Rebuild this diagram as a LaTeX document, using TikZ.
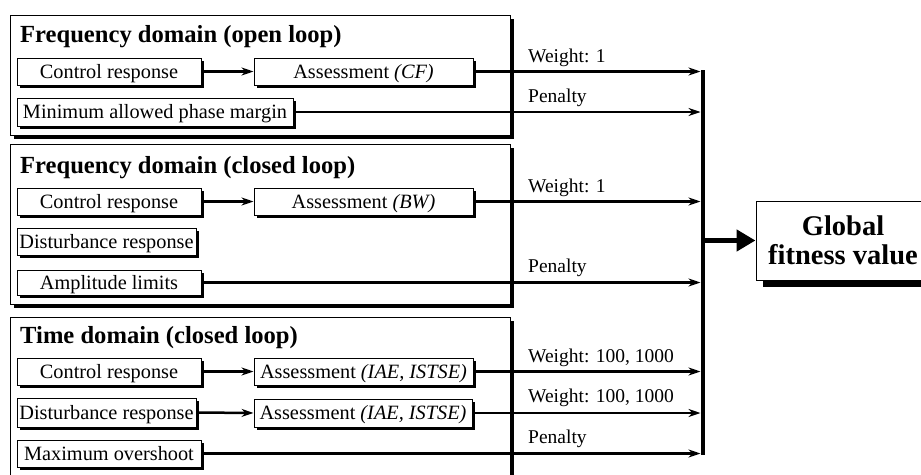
\documentclass[tikz,border=0pt]{standalone}
\usepackage{fontspec}
\setmainfont{Liberation Serif}
\usetikzlibrary{arrows.meta,shadows}
\begin{document}
\begin{tikzpicture}[x=1pt,y=-1pt,
  groupbox/.style={draw, line width=1pt, fill=white, inner sep=0pt, minimum width=500pt,
    general shadow={fill=black, shadow xshift=4pt, shadow yshift=-4pt}},
  rowbox/.style={draw, line width=1pt, fill=white, inner sep=0pt, minimum height=27pt,
    general shadow={fill=black, shadow xshift=3pt, shadow yshift=-3pt},
    font=\fontsize{20.3pt}{24pt}\selectfont, text height=15pt, text depth=2pt},
  grouptitle/.style={anchor=base west, inner sep=0pt, font=\fontsize{24.6pt}{29pt}\selectfont\bfseries},
  lbl/.style={anchor=base west, inner sep=0pt, font=\fontsize{19.5pt}{23pt}\selectfont},
  wline/.style={line width=2.5pt, -{Stealth[length=12pt,width=8pt]}},
  pline/.style={line width=1.2pt, -{Stealth[length=12pt,width=8pt]}},
]
\useasboundingbox (0,0) rectangle (921,474);
\clip (0,0) rectangle (921,474);

% groups
\node[groupbox, minimum height=120pt] (g1) at (260,75) {};
\node[groupbox, minimum height=160pt] (g2) at (260,224) {};
\node[groupbox, minimum height=183pt] (g3) at (260,408.5) {};

\node[grouptitle] (t1) at (20,42) {Frequency domain (open loop)};
\node[grouptitle] (t2) at (20,173) {Frequency domain (closed loop)};
\node[grouptitle] (t3) at (20,343) {Time domain (closed loop)};

% group 1
\node[rowbox, minimum width=184pt] (cr1) at (109,71.5) {Control response};
\node[rowbox, minimum width=219pt] (a1) at (363.5,71.5) {Assessment \textit{(CF)}};
\node[rowbox, minimum width=276pt, minimum height=28pt] (mp) at (155,112) {Minimum allowed phase margin};

% group 2
\node[rowbox, minimum width=184pt] (cr2) at (109,201.5) {Control response};
\node[rowbox, minimum width=219pt] (a2) at (363.5,201.5) {Assessment \textit{(BW)}};
\node[rowbox, minimum width=179pt] (dr2) at (106.5,241.5) {Disturbance response};
\node[rowbox, minimum width=184pt, minimum height=25pt] (al) at (109,282.5) {Amplitude limits};

% group 3
\node[rowbox, minimum width=184pt] (cr3) at (109,371.5) {Control response};
\node[rowbox, minimum width=219pt] (a3) at (363.5,371.5) {Assessment \textit{(IAE, ISTSE)}};
\node[rowbox, minimum width=179pt, minimum height=29pt] (dr3) at (106.5,412.5) {Disturbance response};
\node[rowbox, minimum width=218pt, minimum height=28pt] (a4) at (363,413) {Assessment \textit{(IAE, ISTSE)}};
\node[rowbox, minimum width=184pt] (mo) at (109,453.5) {Maximum overshoot};

% internal arrows
\draw[wline] (cr1.east) -- (a1.west);
\draw[wline] (cr2.east) -- (a2.west);
\draw[wline] (cr3.east) -- (a3.west);
\draw[wline] (dr3.east) -- (a4.west);

% bus
\coordinate (bus) at (700.5,0);
\coordinate (bustop) at (702.75,70);
\coordinate (busbot) at (702.75,455);
\coordinate (busmid) at (702.75,240.5);
\draw[line width=4.5pt] (bustop) -- (busbot);

% lines to bus
\draw[wline] (a1.east) -- (a1.east -| bus);
\draw[pline] (mp.east) -- (mp.east -| bus);
\draw[wline] (a2.east) -- (a2.east -| bus);
\draw[wline] (al.east) -- (al.east -| bus);
\draw[wline] (a3.east) -- (a3.east -| bus);
\draw[wline] (a4.east) -- (a4.east -| bus);
\draw[wline] (mo.east) -- (mo.east -| bus);

% labels
\node[lbl] (l1) at (528,62) {Weight: 1};
\node[lbl] (l2) at (528,102) {Penalty};
\node[lbl] (l3) at (528,192) {Weight: 1};
\node[lbl] (l4) at (528,272) {Penalty};
\node[lbl] (l5) at (528,362) {Weight: 100, 1000};
\node[lbl] (l6) at (528,402) {Weight: 100, 1000};
\node[lbl] (l7) at (528,443) {Penalty};

% global
\node[draw, line width=1pt, fill=white, minimum width=174pt, minimum height=79pt, align=center,
  inner sep=0pt, general shadow={fill=black, shadow xshift=7pt, shadow yshift=-7pt},
  font=\fontsize{28.5pt}{29pt}\selectfont\bfseries] (gfv) at (843,240.5) {Global\\fitness value};
\draw[line width=5pt, -{Triangle[length=19pt,width=21pt]}] (busmid) -- (gfv.west);
\end{tikzpicture}
\end{document}
